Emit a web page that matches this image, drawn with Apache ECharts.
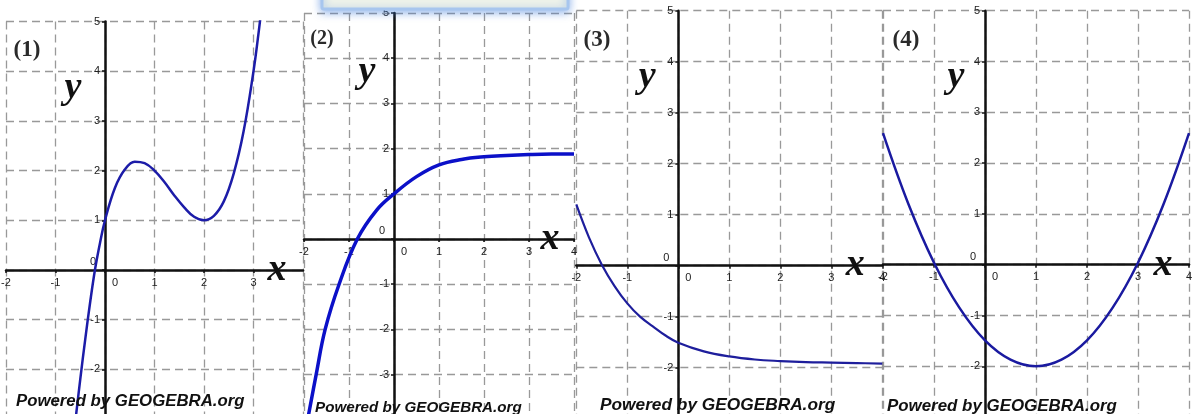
<!DOCTYPE html>
<html>
<head>
<meta charset="utf-8">
<script src="https://cdn.jsdelivr.net/npm/echarts@6/dist/echarts.min.js"></script>
<style>
  html, body { margin: 0; padding: 0; background: #fff; }
  #chart { width: 1192px; height: 414px; }
</style>
</head>
<body>
<div id="chart"></div>
<script>
// Sampled points [x, y] along each plotted function
const curve1 = [
  [-0.6, -3.05], [-0.5, -2.2], [-0.4, -1.4], [-0.3, -0.65], [-0.2, 0.02], [-0.1, 0.55],
  [0, 1], [0.2, 1.65], [0.4, 2.02], [0.6, 2.18], [0.8, 2.15], [1.0, 2.0], [1.2, 1.77],
  [1.4, 1.5], [1.6, 1.26], [1.8, 1.07], [2.0, 1.0], [2.2, 1.09], [2.4, 1.38], [2.6, 1.94],
  [2.8, 2.79], [3.0, 4.0], [3.1, 4.75], [3.15, 5.17]
];
const curve2 = [
  [-1.92, -4.0], [-1.73, -3.0], [-1.53, -2.0], [-1.22, -1.0], [-0.815, 0], [-0.385, 0.64],
  [0, 1.0], [0.5, 1.38], [1.0, 1.64], [1.5, 1.76], [2.0, 1.82], [2.5, 1.85], [3.0, 1.87],
  [3.5, 1.88], [4.0, 1.88]
];
const curve3 = [
  [-2.0, 1.2], [-1.75, 0.55], [-1.5, 0.02], [-1.25, -0.4], [-1.0, -0.74], [-0.75, -1.0],
  [-0.5, -1.19], [-0.25, -1.37], [0, -1.51], [0.5, -1.68], [1.0, -1.78], [1.5, -1.84],
  [2.0, -1.87], [2.5, -1.89], [3.0, -1.9], [3.5, -1.91], [4.0, -1.92]
];
const curve4 = [
  [-2.0, 2.59], [-1.5, 1.19], [-1.0, 0.04], [-0.5, -0.85], [0, -1.49], [0.5, -1.87],
  [1.0, -2.0], [1.5, -1.87], [2.0, -1.49], [2.5, -0.85], [3.0, 0.04], [3.5, 1.19], [4.0, 2.59]
];
const curves = [curve1, curve2, curve3, curve4];
const panelLabels = ['(1)', '(2)', '(3)', '(4)'];
const xRange = [-2, 4];
const yMax = 5;
const yMins = [-2.93, -3.9, -2.93, -2.96];
const credit = 'Powered by GEOGEBRA.org';

// Layout of the four coordinate panels
const layout = [
  { left: 6,     top: 21.5, width: 297, height: 394.1, xName: [-26, 20], yName: [-66.5, 32], lineColor: '#1c1ca8', lineWidth: 2.5,
    tag: [27, 50, 23], credit: [16, 401, 16.8] },
  { left: 304,   top: 13,   width: 270, height: 402.3, xName: [-24, 16], yName: [-59, 27], lineColor: '#0b10c8', lineWidth: 3.5,
    tag: [322, 39, 20], credit: [315, 408, 15.2] },
  { left: 576.3, top: 10.7, width: 306, height: 404.4, xName: [-27, 19], yName: [-66, 31], lineColor: '#1e1e9c', lineWidth: 2.2,
    tag: [597, 40, 23], credit: [600, 405, 17.3] },
  { left: 883,   top: 10.7, width: 306, height: 404.4, xName: [-26, 20], yName: [-66, 29], lineColor: '#1a1aa0', lineWidth: 2.5,
    tag: [906, 40, 23], credit: [887, 406.5, 16.9] }
];

const gridLine = { color: '#999999', width: 1.3, type: [8, 5] };
const axisLineStyle = { color: '#111', width: 2.5 };
const tickFont = { fontSize: 11, color: '#222', fontFamily: 'Liberation Sans, Arial, sans-serif' };
const nameFont = { fontFamily: 'Liberation Serif, Times New Roman, serif', fontStyle: 'italic', fontWeight: 'bold', fontSize: 38, color: '#111' };

const grids = [], xAxes = [], yAxes = [], series = [], graphics = [];

layout.forEach((p, i) => {
  const yMin = yMins[i];
  // distance from the grid's bottom / left edge to the origin, so each axis sits on zero
  const originUp = p.height * (0 - yMin) / (yMax - yMin);
  const originRight = p.width * (0 - xRange[0]) / (xRange[1] - xRange[0]);

  grids.push({ left: p.left, top: p.top, width: p.width, height: p.height, containLabel: false, outerBoundsMode: 'none' });

  xAxes.push({
    type: 'value', gridIndex: i, min: xRange[0], max: xRange[1], interval: 1,
    position: 'bottom', offset: -originUp,
    axisLine: { onZero: false, lineStyle: axisLineStyle },
    axisTick: { show: true, length: 3, lineStyle: { color: '#111', width: 1.5 } },
    splitLine: { show: true, lineStyle: gridLine },
    axisLabel: Object.assign({}, tickFont, {
      margin: 7,
      showMaxLabel: i !== 0,
      formatter: v => (v === 0 ? '{o|0}' : String(v)),
      rich: { o: Object.assign({}, tickFont, { padding: [0, 0, 0, 20] }) }
    }),
    name: 'x', nameLocation: 'end', nameGap: p.xName[0],
    nameTextStyle: Object.assign({}, nameFont, { align: 'center', verticalAlign: 'middle', padding: [p.xName[1] * 2, 0, 0, 0] })
  });

  yAxes.push({
    type: 'value', gridIndex: i, min: yMin, max: yMax, splitNumber: 8, minInterval: 1, maxInterval: 1,
    position: 'left', offset: -originRight,
    axisLine: { onZero: false, lineStyle: axisLineStyle },
    axisTick: { show: true, length: 3, lineStyle: { color: '#111', width: 1.5 } },
    splitLine: { show: true, lineStyle: gridLine },
    axisLabel: Object.assign({}, tickFont, {
      margin: 5,
      showMinLabel: false,
      formatter: v => (v === 0 ? '{o|0}' : String(v)),
      rich: { o: Object.assign({}, tickFont, { padding: [0, 4, 16, 0] }) }
    }),
    name: 'y', nameLocation: 'end', nameGap: p.yName[0],
    nameTextStyle: Object.assign({}, nameFont, { align: 'center', verticalAlign: 'middle', padding: [0, p.yName[1] * 2, 0, 0] })
  });

  series.push({
    type: 'line', xAxisIndex: i, yAxisIndex: i, data: curves[i],
    smooth: 0.4, showSymbol: false, clip: true,
    lineStyle: { color: p.lineColor, width: p.lineWidth },
    z: 5
  });

  graphics.push({
    type: 'text', x: p.tag[0], y: p.tag[1], z: 10,
    style: { text: panelLabels[i], fill: '#2a2a2a', font: 'bold ' + p.tag[2] + 'px "Liberation Serif", serif',
             textAlign: 'center', textVerticalAlign: 'middle' }
  });
  graphics.push({
    type: 'text', x: p.credit[0], y: p.credit[1], z: 10,
    style: { text: credit, fill: '#111', font: 'italic bold ' + p.credit[2] + 'px "Liberation Sans", Arial, sans-serif',
             textAlign: 'left', textVerticalAlign: 'middle' }
  });
});

// Note card edge peeking in at the top of the second panel
graphics.unshift({
  type: 'rect', z: 20,
  shape: { x: 322, y: -22, width: 246, height: 31, r: 2 },
  style: { fill: '#eef3ea', stroke: '#a7c6ee', lineWidth: 3,
           shadowBlur: 8, shadowColor: 'rgba(70,130,220,0.55)', shadowOffsetY: 2 }
});

const chart = echarts.init(document.getElementById('chart'), null, { renderer: 'canvas' });
chart.setOption({
  animation: false,
  backgroundColor: '#ffffff',
  grid: grids,
  xAxis: xAxes,
  yAxis: yAxes,
  series: series,
  graphic: graphics
});
</script>
</body>
</html>
